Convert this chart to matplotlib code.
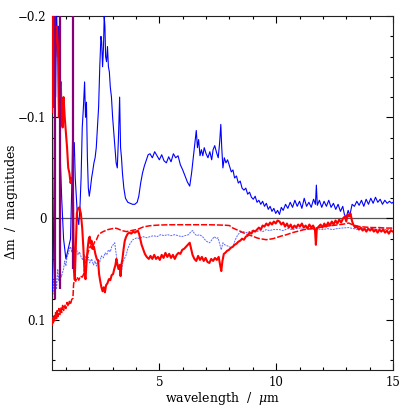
"""Delta-magnitude spectra comparison, 0.4-15 micron."""
import matplotlib

matplotlib.use("Agg")
import matplotlib.pyplot as plt
import numpy as np
from matplotlib.ticker import MultipleLocator

# (wavelength [um], delta m [mag])
blue_upper = np.array([
    (0.42, 0.072), (0.46, 0.04), (0.50, -0.05), (0.53, -0.21), (0.56, -0.12),
    (0.60, -0.21), (0.64, -0.16), (0.68, -0.19), (0.72, -0.11), (0.76, -0.06),
    (0.82, -0.02), (0.90, 0.02), (1.00, 0.04), (1.10, 0.03), (1.20, 0.02),
    (1.26, -0.04), (1.29, -0.085), (1.32, -0.06), (1.36, -0.075), (1.40, -0.04),
    (1.45, -0.02), (1.50, 0.0), (1.55, 0.006), (1.60, -0.01), (1.65, -0.04),
    (1.70, -0.09), (1.75, -0.11), (1.80, -0.135), (1.84, -0.10), (1.88, -0.115),
    (1.92, -0.06), (1.96, -0.03), (2.00, -0.022), (2.05, -0.03), (2.10, -0.04),
    (2.15, -0.047), (2.20, -0.055), (2.25, -0.06), (2.30, -0.07), (2.35, -0.09),
    (2.40, -0.11), (2.45, -0.15), (2.50, -0.18), (2.53, -0.175), (2.57, -0.15),
    (2.61, -0.17), (2.64, -0.20), (2.67, -0.19), (2.70, -0.16), (2.74, -0.155),
    (2.78, -0.17), (2.82, -0.15), (2.86, -0.145), (2.90, -0.13), (2.95, -0.12),
    (3.00, -0.10), (3.05, -0.085), (3.10, -0.07), (3.15, -0.055), (3.20, -0.05),
    (3.25, -0.08), (3.30, -0.12), (3.34, -0.07), (3.38, -0.06), (3.42, -0.045),
    (3.48, -0.03), (3.55, -0.02), (3.65, -0.016), (3.75, -0.015), (3.85, -0.014),
    (3.95, -0.014), (4.05, -0.016), (4.12, -0.022), (4.20, -0.035), (4.28, -0.045),
    (4.36, -0.052), (4.45, -0.058), (4.52, -0.063), (4.60, -0.064), (4.70, -0.060),
    (4.80, -0.066), (4.90, -0.062), (5.00, -0.058), (5.10, -0.063), (5.20, -0.057),
    (5.30, -0.055), (5.40, -0.061), (5.50, -0.056), (5.60, -0.064), (5.70, -0.060),
    (5.80, -0.062), (5.90, -0.053), (6.00, -0.048), (6.10, -0.042), (6.20, -0.036),
    (6.30, -0.032), (6.38, -0.045), (6.45, -0.060), (6.52, -0.075), (6.58, -0.087),
    (6.63, -0.070), (6.68, -0.078), (6.74, -0.062), (6.80, -0.068), (6.86, -0.062),
    (6.92, -0.070), (7.00, -0.064), (7.08, -0.060), (7.16, -0.066), (7.24, -0.058),
    (7.30, -0.068), (7.37, -0.072), (7.45, -0.065), (7.52, -0.060), (7.58, -0.075),
    (7.63, -0.093), (7.67, -0.070), (7.72, -0.050), (7.78, -0.060), (7.85, -0.055),
    (7.92, -0.058), (8.00, -0.052), (8.08, -0.046), (8.15, -0.048), (8.22, -0.040),
    (8.30, -0.042), (8.38, -0.035), (8.46, -0.037), (8.54, -0.030), (8.62, -0.028),
    (8.70, -0.030), (8.78, -0.024), (8.86, -0.026), (8.94, -0.021), (9.02, -0.019),
    (9.10, -0.022), (9.18, -0.016), (9.26, -0.018), (9.34, -0.014), (9.42, -0.017),
    (9.50, -0.012), (9.58, -0.015), (9.66, -0.009), (9.74, -0.012), (9.82, -0.007),
    (9.90, -0.010), (9.98, -0.005), (10.06, -0.008), (10.14, -0.004), (10.22, -0.011),
    (10.30, -0.008), (10.40, -0.014), (10.50, -0.010), (10.60, -0.016), (10.70, -0.011),
    (10.80, -0.018), (10.90, -0.012), (11.00, -0.017), (11.10, -0.010), (11.20, -0.020),
    (11.30, -0.012), (11.40, -0.016), (11.50, -0.011), (11.60, -0.019), (11.68, -0.014),
    (11.72, -0.033), (11.76, -0.013), (11.85, -0.018), (11.95, -0.011), (12.05, -0.017),
    (12.15, -0.012), (12.25, -0.018), (12.35, -0.011), (12.45, -0.015), (12.55, -0.009),
    (12.65, -0.014), (12.75, -0.007), (12.85, -0.012), (12.92, -0.004), (13.00, -0.001),
    (13.08, -0.008), (13.15, -0.003), (13.25, -0.014), (13.35, -0.012), (13.45, -0.017),
    (13.55, -0.013), (13.65, -0.018), (13.75, -0.012), (13.85, -0.019), (13.95, -0.014),
    (14.05, -0.020), (14.15, -0.015), (14.25, -0.021), (14.35, -0.016), (14.45, -0.019),
    (14.55, -0.014), (14.65, -0.018), (14.75, -0.015), (14.85, -0.017), (14.95, -0.015),
    (15.00, -0.016),
])

blue_lower = np.array([
    (0.42, 0.09), (0.45, 0.06), (0.50, 0.075), (0.55, 0.055), (0.60, 0.07),
    (0.65, 0.05), (0.70, 0.062), (0.75, 0.052), (0.80, 0.058), (0.90, 0.05),
    (0.95, 0.042), (1.00, 0.047), (1.05, 0.038), (1.10, 0.035), (1.15, 0.03),
    (1.20, 0.028), (1.25, 0.033), (1.30, 0.026), (1.35, 0.032), (1.40, 0.028),
    (1.46, 0.031), (1.52, 0.036), (1.58, 0.033), (1.65, 0.038), (1.72, 0.041),
    (1.80, 0.036), (1.88, 0.042), (1.95, 0.038), (2.02, 0.044), (2.10, 0.04),
    (2.18, 0.046), (2.25, 0.042), (2.31, 0.047), (2.38, 0.04), (2.45, 0.043),
    (2.52, 0.037), (2.60, 0.039), (2.68, 0.034), (2.75, 0.036), (2.82, 0.031),
    (2.90, 0.033), (2.96, 0.028), (3.02, 0.026), (3.09, 0.024), (3.15, 0.035),
    (3.22, 0.045), (3.30, 0.05), (3.36, 0.057), (3.42, 0.045), (3.50, 0.04),
    (3.58, 0.036), (3.65, 0.03), (3.72, 0.026), (3.80, 0.023), (3.87, 0.021),
    (3.95, 0.02), (4.05, 0.019), (4.15, 0.02), (4.30, 0.018), (4.45, 0.019),
    (4.60, 0.018), (4.75, 0.017), (4.90, 0.018), (5.05, 0.016), (5.20, 0.017),
    (5.35, 0.016), (5.50, 0.017), (5.65, 0.016), (5.80, 0.017), (5.95, 0.018),
    (6.10, 0.017), (6.25, 0.016), (6.35, 0.013), (6.43, 0.012), (6.50, 0.015),
    (6.60, 0.017), (6.72, 0.016), (6.85, 0.018), (6.95, 0.021), (7.05, 0.023),
    (7.15, 0.024), (7.25, 0.021), (7.35, 0.018), (7.45, 0.02), (7.51, 0.019),
    (7.58, 0.025), (7.65, 0.031), (7.72, 0.024), (7.80, 0.026), (7.90, 0.027),
    (8.00, 0.028), (8.08, 0.029), (8.15, 0.028), (8.25, 0.021), (8.36, 0.016),
    (8.45, 0.014), (8.58, 0.013), (8.72, 0.014), (8.86, 0.013), (9.00, 0.012),
    (9.15, 0.013), (9.30, 0.012), (9.43, 0.013), (9.57, 0.011), (9.72, 0.012),
    (9.86, 0.011), (10.00, 0.011), (10.14, 0.011), (10.30, 0.012), (10.50, 0.01),
    (10.70, 0.011), (10.85, 0.01), (11.00, 0.0095), (11.20, 0.011), (11.40, 0.01),
    (11.60, 0.011), (11.80, 0.0105), (12.00, 0.011), (12.20, 0.01), (12.42, 0.011),
    (12.60, 0.01), (12.80, 0.0095), (13.10, 0.009), (13.30, 0.01), (13.50, 0.011),
    (13.70, 0.01), (13.90, 0.011), (14.10, 0.01), (14.30, 0.011), (14.50, 0.01),
    (14.70, 0.011), (14.90, 0.011), (15.00, 0.01),
])

red_thick = np.array([
    (0.41, -0.105), (0.43, -0.21), (0.47, -0.19), (0.50, -0.11), (0.53, -0.15),
    (0.57, -0.18), (0.62, -0.19), (0.66, -0.17), (0.70, -0.10), (0.74, -0.13),
    (0.78, -0.135), (0.82, -0.10), (0.86, -0.09), (0.90, -0.12), (0.95, -0.10),
    (1.00, -0.085), (1.05, -0.07), (1.10, -0.05), (1.15, -0.045), (1.20, -0.035),
    (1.25, -0.04), (1.30, -0.028), (1.34, 0.05), (1.38, 0.06), (1.42, 0.03),
    (1.47, -0.005), (1.52, -0.01), (1.58, -0.011), (1.64, -0.005), (1.70, 0.01),
    (1.75, 0.03), (1.80, 0.055), (1.84, 0.06), (1.88, 0.045), (1.93, 0.03),
    (1.98, 0.02), (2.02, 0.018), (2.06, 0.025), (2.10, 0.022), (2.15, 0.03),
    (2.20, 0.028), (2.26, 0.035), (2.32, 0.04), (2.38, 0.042), (2.42, 0.055),
    (2.47, 0.062), (2.52, 0.068), (2.57, 0.072), (2.62, 0.068), (2.67, 0.073),
    (2.72, 0.066), (2.78, 0.064), (2.84, 0.06), (2.90, 0.061), (2.96, 0.056),
    (3.02, 0.055), (3.07, 0.05), (3.12, 0.046), (3.16, 0.04), (3.20, 0.045),
    (3.25, 0.05), (3.30, 0.046), (3.34, 0.057), (3.38, 0.045), (3.42, 0.04),
    (3.47, 0.03), (3.52, 0.022), (3.58, 0.018), (3.65, 0.015), (3.72, 0.014),
    (3.80, 0.015), (3.88, 0.013), (3.95, 0.014), (4.02, 0.013), (4.08, 0.012),
    (4.13, 0.015), (4.18, 0.02), (4.24, 0.026), (4.30, 0.03), (4.38, 0.035),
    (4.46, 0.038), (4.55, 0.04), (4.62, 0.037), (4.70, 0.04), (4.78, 0.036),
    (4.86, 0.04), (4.94, 0.038), (5.02, 0.041), (5.10, 0.036), (5.18, 0.039),
    (5.26, 0.034), (5.34, 0.038), (5.42, 0.035), (5.50, 0.039), (5.58, 0.036),
    (5.66, 0.04), (5.74, 0.036), (5.82, 0.034), (5.90, 0.035), (5.98, 0.031),
    (6.06, 0.03), (6.14, 0.028), (6.22, 0.026), (6.30, 0.024), (6.36, 0.03),
    (6.42, 0.036), (6.50, 0.04), (6.58, 0.042), (6.66, 0.037), (6.74, 0.041),
    (6.82, 0.038), (6.90, 0.042), (6.98, 0.039), (7.06, 0.043), (7.14, 0.044),
    (7.22, 0.04), (7.30, 0.042), (7.38, 0.039), (7.46, 0.041), (7.54, 0.038),
    (7.60, 0.046), (7.65, 0.052), (7.70, 0.042), (7.76, 0.035), (7.82, 0.034),
    (7.90, 0.032), (7.98, 0.031), (8.06, 0.029), (8.14, 0.028), (8.22, 0.026),
    (8.30, 0.025), (8.38, 0.023), (8.46, 0.022), (8.54, 0.02), (8.62, 0.021),
    (8.70, 0.018), (8.78, 0.017), (8.86, 0.014), (8.94, 0.015), (9.02, 0.012),
    (9.10, 0.013), (9.18, 0.011), (9.26, 0.009), (9.34, 0.011), (9.42, 0.007),
    (9.50, 0.008), (9.58, 0.005), (9.66, 0.007), (9.74, 0.004), (9.82, 0.006),
    (9.90, 0.003), (9.98, 0.005), (10.06, 0.002), (10.14, 0.003), (10.22, 0.006),
    (10.30, 0.004), (10.38, 0.008), (10.46, 0.005), (10.54, 0.009), (10.62, 0.006),
    (10.70, 0.01), (10.78, 0.007), (10.86, 0.009), (10.94, 0.006), (11.02, 0.008),
    (11.10, 0.005), (11.18, 0.009), (11.26, 0.007), (11.34, 0.01), (11.42, 0.006),
    (11.50, 0.009), (11.58, 0.007), (11.66, 0.011), (11.70, 0.026), (11.74, 0.01),
    (11.82, 0.008), (11.90, 0.006), (11.98, 0.009), (12.06, 0.005), (12.14, 0.008),
    (12.22, 0.004), (12.30, 0.007), (12.38, 0.003), (12.46, 0.006), (12.54, 0.002),
    (12.62, 0.005), (12.70, 0.001), (12.78, 0.004), (12.86, 0.0), (12.94, -0.002),
    (13.00, 0.003), (13.06, -0.004), (13.12, -0.002), (13.18, -0.005), (13.24, 0.002),
    (13.30, 0.006), (13.38, 0.009), (13.46, 0.008), (13.54, 0.011), (13.62, 0.009),
    (13.70, 0.012), (13.78, 0.01), (13.86, 0.013), (13.94, 0.01), (14.02, 0.012),
    (14.10, 0.01), (14.18, 0.013), (14.26, 0.011), (14.34, 0.014), (14.42, 0.011),
    (14.50, 0.013), (14.58, 0.011), (14.66, 0.014), (14.74, 0.012), (14.82, 0.015),
    (14.90, 0.012), (15.00, 0.013),
])

red_dashed = np.array([
    (0.41, 0.106), (0.44, 0.098), (0.47, 0.104), (0.50, 0.095), (0.53, 0.101),
    (0.56, 0.093), (0.60, 0.099), (0.63, 0.091), (0.67, 0.097), (0.70, 0.089),
    (0.74, 0.095), (0.78, 0.088), (0.82, 0.093), (0.86, 0.086), (0.90, 0.091),
    (0.95, 0.085), (1.00, 0.089), (1.05, 0.083), (1.10, 0.087), (1.15, 0.082),
    (1.20, 0.085), (1.25, 0.080), (1.30, 0.079), (1.33, 0.065),
    (1.37, 0.06), (1.42, 0.062), (1.48, 0.058), (1.55, 0.061), (1.62, 0.057),
    (1.70, 0.058), (1.76, 0.055), (1.82, 0.048), (1.88, 0.04), (1.94, 0.034),
    (2.00, 0.03), (2.06, 0.027), (2.12, 0.03), (2.18, 0.026), (2.25, 0.022),
    (2.31, 0.021), (2.38, 0.017), (2.45, 0.015), (2.52, 0.014), (2.59, 0.013),
    (2.70, 0.012), (2.80, 0.011), (2.90, 0.0105), (3.00, 0.01), (3.09, 0.0095),
    (3.20, 0.01), (3.30, 0.011), (3.40, 0.012), (3.50, 0.0125), (3.59, 0.013),
    (3.70, 0.0125), (3.80, 0.012), (3.90, 0.0115), (4.02, 0.011), (4.15, 0.01),
    (4.30, 0.0085), (4.45, 0.0078), (4.59, 0.0072), (4.80, 0.0068), (5.00, 0.0065),
    (5.30, 0.0063), (5.60, 0.0062), (6.00, 0.0062), (6.40, 0.0062), (6.72, 0.0062),
    (7.00, 0.0062), (7.30, 0.0063), (7.60, 0.0065), (7.90, 0.0068), (8.00, 0.007),
    (8.15, 0.0095), (8.30, 0.011), (8.45, 0.0125), (8.58, 0.014), (8.72, 0.0155),
    (8.86, 0.0165), (9.00, 0.0175), (9.15, 0.019), (9.30, 0.02), (9.45, 0.0205),
    (9.57, 0.021), (9.72, 0.0205), (9.86, 0.02), (10.00, 0.019), (10.20, 0.0175),
    (10.45, 0.016), (10.70, 0.014), (10.95, 0.0125), (11.20, 0.011), (11.45, 0.0103),
    (11.70, 0.0095), (11.95, 0.0085), (12.20, 0.0075), (12.45, 0.0068), (12.70, 0.0062),
    (12.90, 0.0055), (13.10, 0.0045), (13.30, 0.0065), (13.56, 0.008), (13.80, 0.0085),
    (14.10, 0.009), (14.40, 0.009), (14.70, 0.0095), (15.00, 0.0095),
])

# short-wavelength excursions that run off the top of the frame
spike_wav = [0.55, 0.73, 1.30]
spike_top = [-0.2, -0.2, -0.2]
spike_bottom = [0.08, 0.07, 0.05]

xticks = [5, 10, 15]
yticks = [-0.2, -0.1, 0, 0.1]
ytick_labels = ["\u22120.2", "\u22120.1", "0", "0.1"]

plt.rcParams["font.family"] = ["DejaVu Serif"]
plt.rcParams["mathtext.fontset"] = "dejavuserif"

fig = plt.figure(figsize=(4.15, 4.15), dpi=100)
ax = fig.add_axes([0.125, 0.108, 0.822, 0.853])

ax.axhline(0, color="#555555", lw=0.9, zorder=1)
ax.vlines(spike_wav, spike_top, spike_bottom, color="#880077", lw=1.6, zorder=4)
ax.plot(blue_lower[:, 0], blue_lower[:, 1], color="#3344ff", lw=0.7,
        dashes=(2, 1), alpha=0.8, zorder=2)
ax.plot(blue_upper[:, 0], blue_upper[:, 1], color="#0000ff", lw=0.8, zorder=3)
ax.plot(red_dashed[:, 0], red_dashed[:, 1], color="#ff0000", lw=1.1,
        dashes=(4, 1.2), zorder=3)
ax.plot(red_thick[:, 0], red_thick[:, 1], color="#ff0000", lw=1.5, zorder=3)

ax.set_xlim(0.4, 15)
ax.set_ylim(0.15, -0.2)
ax.set_xticks(xticks)
ax.set_yticks(yticks)
ax.set_yticklabels(ytick_labels)
ax.xaxis.set_minor_locator(MultipleLocator(1))
ax.yaxis.set_minor_locator(MultipleLocator(0.02))
ax.tick_params(which="both", direction="in", top=True, right=True,
               labelsize=8.5, width=0.8, pad=4)
ax.tick_params(which="major", length=5)
ax.tick_params(which="minor", length=2.5)
for s in ax.spines.values():
    s.set_linewidth(0.8)
    s.set_color("#222222")

ax.set_xlabel(r"wavelength  /  $\mu$m", fontsize=9, labelpad=1)
ax.set_ylabel(r"$\Delta$m  /  magnitudes", fontsize=9)
ax.yaxis.set_label_coords(-0.094, 0.475)

fig.savefig("out.png", dpi=100)
plt.close()
